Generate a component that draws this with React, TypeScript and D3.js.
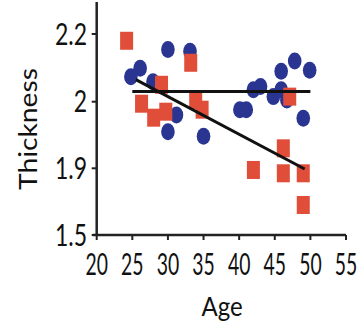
import * as d3 from "d3";
import { useRef, useEffect } from "react";

// blue circles
const blueAge = [24.8, 26.1, 27.9, 30.0, 31.2, 30.0, 33.1, 35.0, 40.1, 41.0, 42.0, 43.0, 44.8, 45.9, 45.9, 46.7, 47.8, 49.9, 49.0];
const blueThick = [2.074, 2.099, 2.059, 2.154, 1.98, 1.955, 2.149, 1.948, 1.988, 1.988, 2.035, 2.045, 2.015, 2.09, 2.035, 2.005, 2.12, 2.093, 1.975];

// red squares
const redAge = [24.2, 26.3, 28.0, 29.1, 29.7, 33.2, 33.9, 34.8, 42.0, 46.2, 46.2, 49.0, 49.0, 47.1];
const redThick = [2.18, 1.997, 1.976, 2.05, 1.985, 2.115, 2.005, 1.988, 1.89, 1.93, 1.87, 1.87, 1.68, 2.015];

// trend lines [age, thickness]
const flatLine = [[25, 2.03], [50, 2.03]];
const slopeLine = [[25.5, 2.065], [49.2, 1.896]];

const xTicks = [20, 25, 30, 35, 40, 45, 50, 55];
const yTicks = [2.2, 2, 1.9, 1.5];

const W = 358;
const H = 331;

const App = () => {
    const chartRef = useRef(null);

    useEffect(() => {
        const svg = d3.select(chartRef.current);
        svg.selectAll("*").remove();

        const x = d3.scaleLinear().domain([20, 55]).range([96.7, 346]);
        // the axis is not evenly spaced in value, so a piecewise scale
        const y = d3.scaleLinear().domain([1.5, 1.9, 2, 2.2]).range([235, 168.3, 101.7, 34]);
        const font = "Lato, 'Open Sans', sans-serif";

        // points
        const blue = blueAge.map((a, i) => ({ a, t: blueThick[i] }));
        const red = redAge.map((a, i) => ({ a, t: redThick[i] }));

        svg.append("g")
            .selectAll("ellipse")
            .data(blue)
            .enter()
            .append("ellipse")
            .attr("cx", d => x(d.a))
            .attr("cy", d => y(d.t))
            .attr("rx", 6.8)
            .attr("ry", 8.5)
            .style("fill", "#2a3592");

        svg.append("g")
            .selectAll("rect")
            .data(red)
            .enter()
            .append("rect")
            .attr("x", d => x(d.a) - 6.5)
            .attr("y", d => y(d.t) - 9)
            .attr("width", 13)
            .attr("height", 18)
            .style("fill", "#e04e3a");

        const line = d3.line().x(d => x(d[0])).y(d => y(d[1]));
        [flatLine, slopeLine].forEach(l => {
            svg.append("path")
                .attr("d", line(l))
                .style("fill", "none")
                .style("stroke", "#111")
                .style("stroke-width", 3);
        });

        // axes
        const x0 = x(20);
        const y0 = y(1.5);
        svg.append("line")
            .attr("x1", x0).attr("x2", x0)
            .attr("y1", 2).attr("y2", y0)
            .style("stroke", "#222").style("stroke-width", 2.5);
        svg.append("line")
            .attr("x1", x0 - 4).attr("x2", x(55))
            .attr("y1", y0).attr("y2", y0)
            .style("stroke", "#222").style("stroke-width", 2.5);

        svg.append("g")
            .selectAll("line")
            .data(yTicks)
            .enter()
            .append("line")
            .attr("x1", x0 - 5).attr("x2", x0)
            .attr("y1", d => y(d)).attr("y2", d => y(d))
            .style("stroke", "#222").style("stroke-width", 2);

        svg.append("g")
            .selectAll("line")
            .data(xTicks)
            .enter()
            .append("line")
            .attr("x1", d => x(d)).attr("x2", d => x(d))
            .attr("y1", y0).attr("y2", y0 + 5)
            .style("stroke", "#222").style("stroke-width", 2);

        // the original text is a bit stretched vertically
        svg.append("g")
            .selectAll("text")
            .data(yTicks)
            .enter()
            .append("text")
            .attr("transform", d => `translate(87,${y(d) + 10.5}) scale(1,1.3)`)
            .attr("text-anchor", "end")
            .style("font-family", font)
            .style("font-size", "23px")
            .style("fill", "#111")
            .text(d => String(d));

        svg.append("g")
            .selectAll("text")
            .data(xTicks)
            .enter()
            .append("text")
            .attr("transform", d => `translate(${x(d)},275) scale(0.88,1.38)`)
            .attr("text-anchor", "middle")
            .style("font-family", font)
            .style("font-size", "22px")
            .style("fill", "#111")
            .text(d => String(d));

        svg.append("text")
            .attr("transform", "translate(222,316) scale(1,1.15)")
            .attr("text-anchor", "middle")
            .style("font-family", font)
            .style("font-size", "24px")
            .style("fill", "#111")
            .text("Age");

        svg.append("text")
            .attr("transform", "translate(37,129) rotate(-90) scale(1.13,1)")
            .attr("text-anchor", "middle")
            .style("font-family", font)
            .style("font-size", "25px")
            .style("fill", "#111")
            .text("Thickness");
    }, []);

    return (
        <svg ref={chartRef} width={W} height={H}
             style={{ position: "absolute", left: 0, top: 0, background: "#fff" }}></svg>
    );
};

export default App;
